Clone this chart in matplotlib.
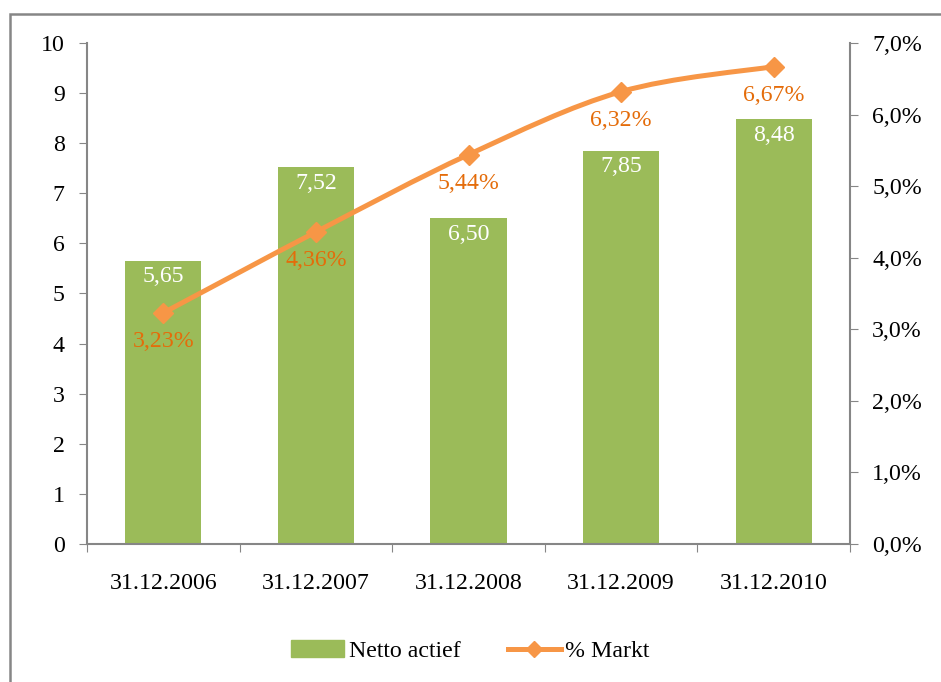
import matplotlib
matplotlib.use("Agg")
import matplotlib.pyplot as plt
import numpy as np
from matplotlib.path import Path
from matplotlib.patches import PathPatch, Patch, Rectangle
from matplotlib.lines import Line2D
from matplotlib.ticker import FuncFormatter

# data
dates = ["31.12.2006", "31.12.2007", "31.12.2008", "31.12.2009", "31.12.2010"]
netto_actief = [5.65, 7.52, 6.50, 7.85, 8.48]
pct_markt = [3.23, 4.36, 5.44, 6.32, 6.67]

green = "#9BBB59"
orange = "#F79646"
orange_dark = "#E46C0A"
gray = "#868686"

plt.rcParams["font.family"] = ["Liberation Serif", "DejaVu Serif"]
plt.rcParams["font.size"] = 17.2

fig = plt.figure(figsize=(9.41, 6.82), dpi=100)
ax = fig.add_axes([0.0925, 0.2023, 0.8108, 0.7347])
ax2 = ax.twinx()

x = np.arange(len(dates))
bars = ax.bar(x, netto_actief, width=0.5, color=green, zorder=2)
for xi, v in zip(x, netto_actief):
    ax.annotate(f"{v:.2f}".replace(".", ","), (xi, v), xytext=(0, -4),
                textcoords="offset points", ha="center", va="top",
                color="white")

# smoothed line (Excel style bezier through the points)
pts = np.column_stack([x, pct_markt]).astype(float)
ext = np.vstack([pts[0], pts, pts[-1]])
verts = [tuple(pts[0])]
codes = [Path.MOVETO]
for i in range(len(pts) - 1):
    p_prev, p0, p1, p_next = ext[i], ext[i + 1], ext[i + 2], ext[i + 3]
    c1 = p0 + (p1 - p_prev) / 6
    c2 = p1 - (p_next - p0) / 6
    verts += [tuple(c1), tuple(c2), tuple(p1)]
    codes += [Path.CURVE4] * 3
ax2.add_patch(PathPatch(Path(verts, codes), facecolor="none", edgecolor=orange,
                        lw=3.6, capstyle="round", zorder=3))
ax2.plot(x, pct_markt, linestyle="none", marker="D", markersize=10,
         color=orange, zorder=4)
for xi, v in zip(x, pct_markt):
    ax2.annotate(f"{v:.2f}%".replace(".", ","), (xi, v), xytext=(0, -13),
                 textcoords="offset points", ha="center", va="top",
                 color=orange_dark)

ax.set_xlim(-0.5, len(dates) - 0.5)
ax.set_ylim(0, 10)
ax.set_yticks(range(0, 11))
ax2.set_ylim(0, 7)
ax2.set_yticks(range(0, 8))
ax2.yaxis.set_major_formatter(FuncFormatter(lambda v, p: f"{v:.1f}%".replace(".", ",")))

ax.set_xticks(np.arange(-0.5, len(dates)), labels=[""] * (len(dates) + 1))
ax.set_xticks(x, labels=dates, minor=True)
ax.tick_params(axis="x", which="major", length=6, color=gray, direction="out")
ax.tick_params(axis="x", which="minor", length=0, pad=21)
ax.tick_params(axis="y", length=6, color=gray, pad=10)
ax2.tick_params(axis="y", length=6, color=gray, pad=10)

for a in (ax, ax2):
    a.spines["top"].set_visible(False)
    for s in ("left", "right", "bottom"):
        a.spines[s].set_color(gray)
        a.spines[s].set_linewidth(1.5)
ax.spines["right"].set_visible(False)
ax2.spines["left"].set_visible(False)
ax2.spines["bottom"].set_visible(False)

handles = [Patch(color=green, label="Netto actief"),
           Line2D([], [], color=orange, lw=3.6, marker="D", markersize=8,
                  label="% Markt")]
fig.legend(handles=handles, loc="center", bbox_to_anchor=(0.5, 0.045),
           ncol=2, frameon=False, handlelength=2.2, columnspacing=2.0,
           handletextpad=0.2)

fig.add_artist(Rectangle((0.0106, -0.1), 1.2, 1.0795, transform=fig.transFigure,
                         fill=False, edgecolor=gray, lw=1.8))

fig.savefig("out.png", dpi=100)
